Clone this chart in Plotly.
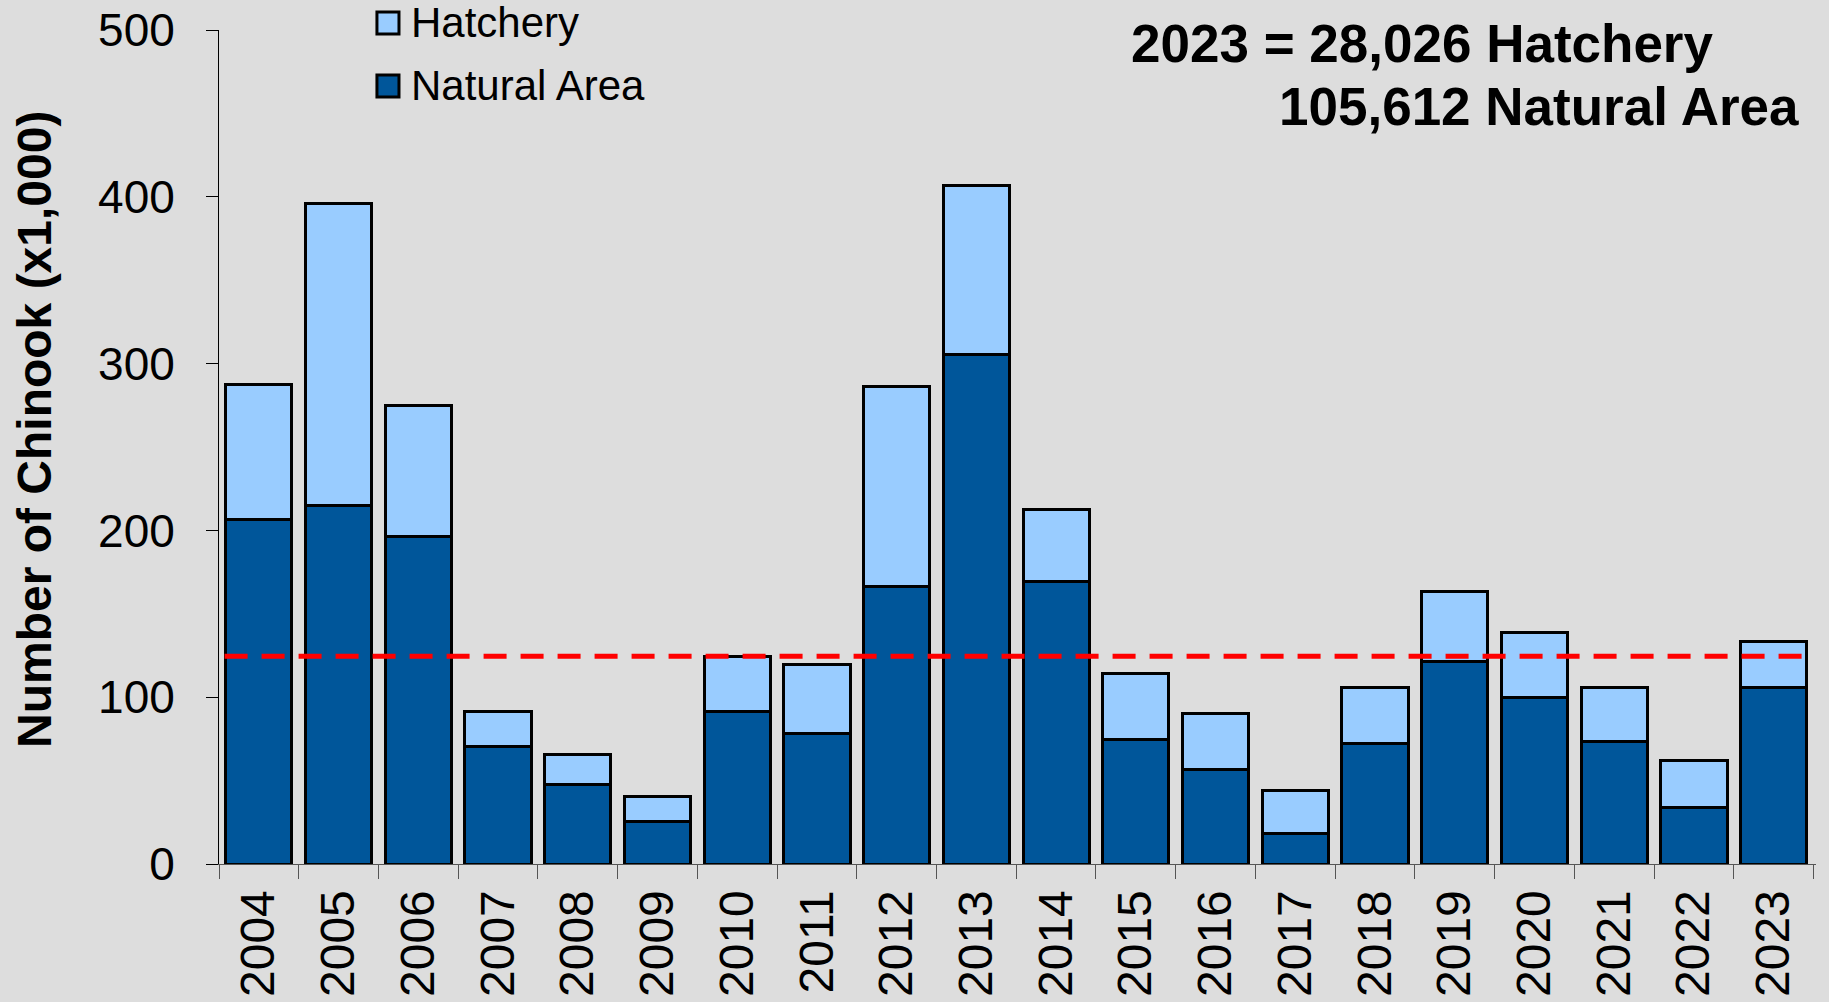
import plotly.graph_objects as go

years = ["2004", "2005", "2006", "2007", "2008", "2009", "2010", "2011", "2012", "2013",
         "2014", "2015", "2016", "2017", "2018", "2019", "2020", "2021", "2022", "2023"]
natural = [206.3, 214.7, 196.5, 70.6, 47.6, 25.2, 91.6, 78.3, 166.4, 305.6,
           169.2, 74.8, 56.6, 18.2, 72.0, 121.7, 100.0, 73.4, 33.6, 105.6]
hatchery = [81.1, 181.1, 78.3, 21.0, 18.1, 15.4, 32.9, 41.3, 119.6, 101.4,
            43.4, 39.2, 33.6, 25.8, 33.6, 41.9, 38.5, 32.2, 28.6, 28.0]
average_line = 124.5
y_ticks = [0, 100, 200, 300, 400, 500]

NAT_COLOR = "#00569A"
HAT_COLOR = "#99CCFF"
BG = "#DDDDDD"
FONT = "Liberation Sans, Arial, sans-serif"

fig = go.Figure()
fig.add_trace(go.Bar(x=years, y=natural, name="Natural Area",
                     marker=dict(color=NAT_COLOR, line=dict(color="black", width=3)),
                     showlegend=False))
fig.add_trace(go.Bar(x=years, y=hatchery, name="Hatchery",
                     marker=dict(color=HAT_COLOR, line=dict(color="black", width=3)),
                     showlegend=False))

fig.add_shape(type="line", xref="x", yref="y", x0=-0.43, x1=19.5,
              y0=average_line, y1=average_line,
              line=dict(color="#FF0000", width=5, dash="23px,14px"))

# legend swatches (custom, larger squares)
fig.add_shape(type="rect", xref="paper", yref="paper", x0=0.0989, x1=0.1127, y0=0.9952, y1=1.0216,
              fillcolor=HAT_COLOR, line=dict(color="black", width=3))
fig.add_shape(type="rect", xref="paper", yref="paper", x0=0.0989, x1=0.1127, y0=0.9197, y1=0.946,
              fillcolor=NAT_COLOR, line=dict(color="black", width=3))
fig.add_annotation(text="Hatchery", xref="paper", yref="paper", x=0.119, y=1.0084,
                   xanchor="left", yanchor="middle", showarrow=False,
                   font=dict(family=FONT, size=42, color="black"))
fig.add_annotation(text="Natural Area", xref="paper", yref="paper", x=0.119, y=0.9329,
                   xanchor="left", yanchor="middle", showarrow=False,
                   font=dict(family=FONT, size=42, color="black"))

fig.add_annotation(text="<b>2023 = 28,026 Hatchery</b>", xref="paper", yref="paper",
                   x=0.9365, y=0.9844, xanchor="right", yanchor="middle", showarrow=False,
                   font=dict(family=FONT, size=53, color="black"))
fig.add_annotation(text="<b>105,612 Natural Area</b>", xref="paper", yref="paper",
                   x=0.9905, y=0.9077, xanchor="right", yanchor="middle", showarrow=False,
                   font=dict(family=FONT, size=53, color="black"))

fig.add_annotation(text="<b>Number of Chinook (x1,000)</b>", xref="paper", yref="paper",
                   x=-0.1152, y=0.5204, xanchor="center", yanchor="middle", textangle=-90,
                   showarrow=False, font=dict(family=FONT, size=48, color="black"))

fig.update_layout(
    barmode="stack",
    bargap=0.17,
    width=1829, height=1002, autosize=False,
    margin=dict(l=219, r=13, t=30, b=138, pad=0, autoexpand=False),
    paper_bgcolor=BG, plot_bgcolor=BG,
    font=dict(family=FONT, color="black"),
    xaxis=dict(type="category", tickangle=-90, tickfont=dict(size=48), automargin=False,
               showline=True, linecolor="#555555", linewidth=1,
               ticks="outside", tickson="boundaries", ticklen=14, tickcolor="#555555",
               ticklabelstandoff=6, showgrid=False, zeroline=False),
    yaxis=dict(range=[0, 500], tickvals=y_ticks, tickfont=dict(size=46), automargin=False,
               showline=True, linecolor="black", linewidth=1,
               ticks="outside", ticklen=12, tickcolor="black",
               ticklabelstandoff=22, showgrid=False, zeroline=False),
)

fig.write_html(
    "out.html",
    config={"displayModeBar": False},
    post_script="document.body.style.margin='0';document.body.style.backgroundColor='#DDDDDD';",
)
